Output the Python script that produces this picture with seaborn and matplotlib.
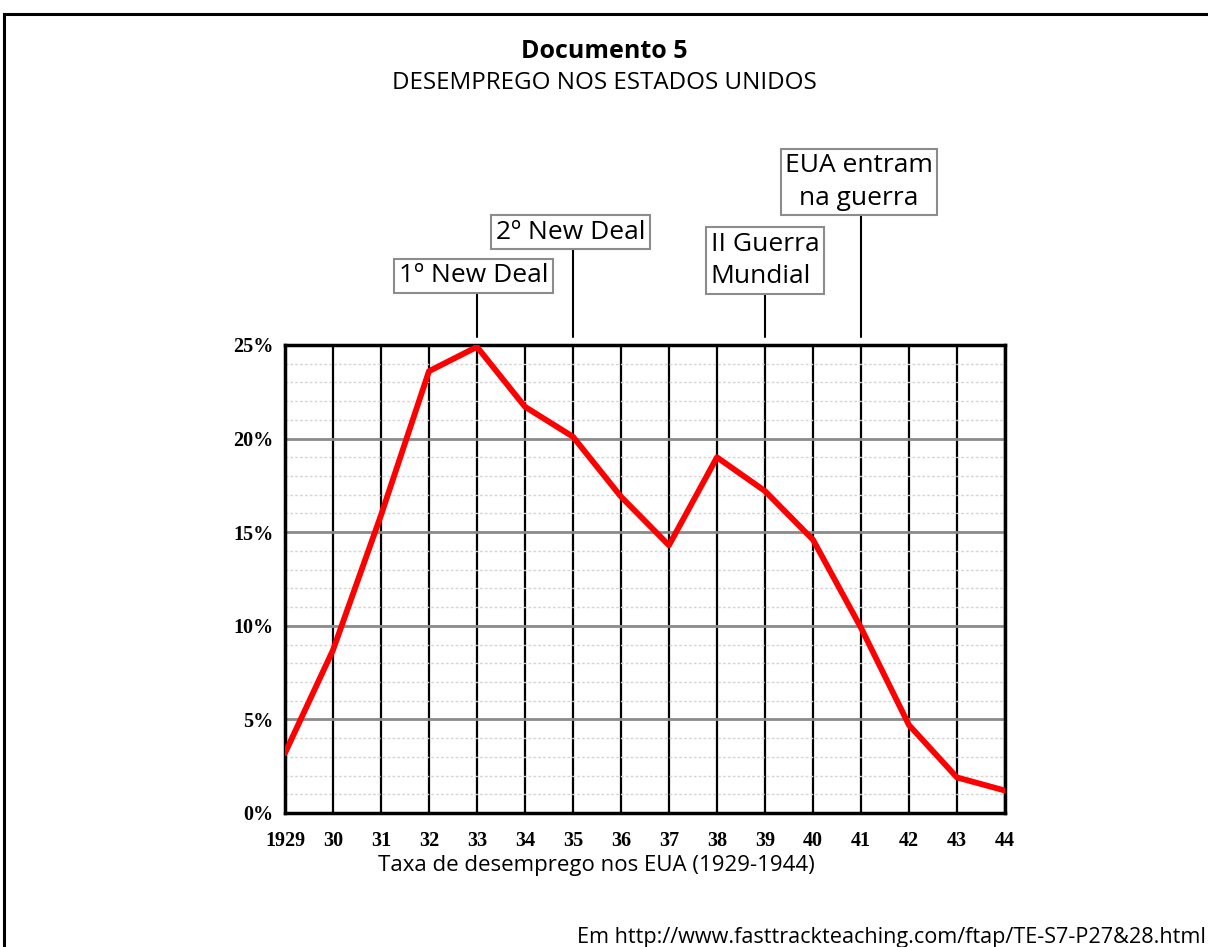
import matplotlib
matplotlib.use("Agg")
import matplotlib.pyplot as plt
import matplotlib.patches as mpatches
from matplotlib.ticker import MultipleLocator, FixedLocator
import seaborn as sns
import pandas as pd

# Unemployment rate in the USA, 1929-1944 (%)
years = [1929, 1930, 1931, 1932, 1933, 1934, 1935, 1936,
         1937, 1938, 1939, 1940, 1941, 1942, 1943, 1944]
unemployment = [3.2, 8.7, 15.9, 23.6, 24.9, 21.7, 20.1, 16.9,
                14.3, 19.0, 17.2, 14.6, 9.9, 4.7, 1.9, 1.2]
year_labels = ["1929", "30", "31", "32", "33", "34", "35", "36",
               "37", "38", "39", "40", "41", "42", "43", "44"]
y_ticks = [0, 5, 10, 15, 20, 25]

# Events marked above the chart
event_years = [1933, 1935, 1939, 1941]
event_labels = ["1º New Deal", "2º New Deal", "II Guerra\nMundial", "EUA entram\nna guerra"]

df = pd.DataFrame({"year": years, "rate": unemployment})

sns.set_style("white")
plt.rcParams["font.family"] = ["Open Sans", "DejaVu Sans"]
plt.rcParams["text.color"] = "black"

fig = plt.figure(figsize=(12.08, 9.47), dpi=100)
ax = fig.add_axes([0.2359, 0.1415, 0.596, 0.4942])

sns.lineplot(data=df, x="year", y="rate", color="red", linewidth=4.2, ax=ax, zorder=5)

ax.set_xlim(1929, 1944)
ax.set_ylim(0, 25)
ax.xaxis.set_major_locator(FixedLocator(years))
ax.set_xticklabels(year_labels)
ax.set_yticks(y_ticks)
ax.set_yticklabels([f"{v}%" for v in y_ticks])
ax.yaxis.set_minor_locator(MultipleLocator(1))

ax.grid(False)
ax.grid(True, axis="x", which="major", color="black", linewidth=1.6)
ax.grid(True, axis="y", which="major", color="#8a8a8a", linewidth=2.0)
ax.grid(True, axis="y", which="minor", color="#d6d6d6", linewidth=1.0, linestyle=(0, (2, 1.5)))
ax.set_axisbelow(True)

for side in ax.spines.values():
    side.set_color("black")
    side.set_linewidth(2.5)

ax.tick_params(axis="both", which="both", length=0, labelcolor="black")
ax.tick_params(axis="x", pad=13)
ax.tick_params(axis="y", pad=8)
for lab in ax.get_xticklabels() + ax.get_yticklabels():
    lab.set_fontfamily("Liberation Serif")
    lab.set_fontweight("bold")
    lab.set_fontsize(14.5)
ax.set_xlabel("")
ax.set_ylabel("")

# event annotations: a vertical stem from the top of the grid up to a boxed label
box_x = [1932.93, 1934.95, 1939.0, 1940.96]
box_y = [28.69, 31.01, 29.51, 33.71]
aligns = ["center", "center", "left", "center"]
for yr, lab, bx, by, al in zip(event_years, event_labels, box_x, box_y, aligns):
    ax.plot([yr, yr], [25.45, by], color="black", lw=1.5, clip_on=False, zorder=6)
    ax.text(bx, by, lab, ha="center", va="center", multialignment=al,
            fontsize=19, linespacing=1.4, clip_on=False, zorder=7,
            bbox=dict(boxstyle="square,pad=0.17", fc="white", ec="#8c8c8c", lw=1.5))

fig.text(0.5, 0.946, "Documento 5", ha="center", va="center",
         fontsize=18, fontweight="bold")
fig.text(0.5, 0.912, "DESEMPREGO NOS ESTADOS UNIDOS", ha="center", va="center",
         fontsize=17.4)
fig.text(0.494, 0.086, "Taxa de desemprego nos EUA (1929-1944)", ha="center", va="center",
         fontsize=16)
fig.text(0.998, 0.010, "Em http://www.fasttrackteaching.com/ftap/TE-S7-P27&28.html",
         ha="right", va="center", fontsize=15.6)

# outer frame of the document
fig.patches.append(mpatches.Rectangle((0.0035, -0.05), 1.1, 1.035, transform=fig.transFigure,
                                      fill=False, ec="black", lw=2.2))

fig.savefig("out.png", dpi=100, facecolor="white")
